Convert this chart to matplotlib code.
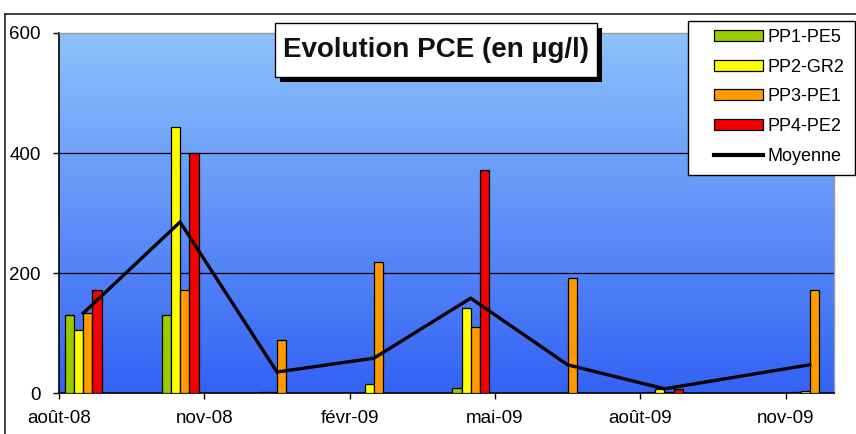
import matplotlib
matplotlib.use('Agg')
import matplotlib.pyplot as plt
import numpy as np
from matplotlib.patches import Rectangle, Patch
from matplotlib.lines import Line2D
from matplotlib.colors import LinearSegmentedColormap

# ---------------- data ----------------
axis_start = '2008-08'
axis_months = 16
sample_dates = ['2008-08', '2008-10', '2008-12', '2009-02', '2009-04', '2009-06', '2009-08', '2009-11']
pp1_pe5 = [130, 130, 1, 0, 8, 0, 1, 1]
pp2_gr2 = [105, 443, 1, 15, 141, 0, 6, 4]
pp3_pe1 = [133, 172, 88, 218, 110, 191, 2, 172]
pp4_pe2 = [172, 400, 0, 0, 372, 0, 6, 0]
moyenne = [133, 285, 35, 58, 158, 47, 7, 47]
series_names = ['PP1-PE5', 'PP2-GR2', 'PP3-PE1', 'PP4-PE2']
tick_dates = ['2008-08', '2008-11', '2009-02', '2009-05', '2009-08', '2009-11']
tick_labels = ['août-08', 'nov-08', 'févr-09', 'mai-09', 'août-09', 'nov-09']
y_ticks = [0, 200, 400, 600]
title = 'Evolution PCE (en µg/l)'

# ---------------- helpers ----------------
def month_index(d):
    y, m = map(int, d.split('-'))
    y0, m0 = map(int, axis_start.split('-'))
    return (y - y0) * 12 + (m - m0)

W, H = 856, 434
def fx(px):
    return px / W
def fy(py):
    return 1 - py / H

plt.rcParams['font.family'] = ['Liberation Sans', 'DejaVu Sans']

fig = plt.figure(figsize=(W / 100, H / 100), dpi=100)
fig.patch.set_facecolor('white')
ax = fig.add_axes([fx(59), fy(393), fx(834) - fx(59), fy(33) - fy(393)])

# gradient background
cmap = LinearSegmentedColormap.from_list('bg', ['#3462F4', '#8DC2FB'])
grad = np.linspace(0, 1, 256).reshape(-1, 1)
ax.imshow(grad, cmap=cmap, origin='lower', aspect='auto',
          extent=[0, 1, 0, 1], transform=ax.transAxes, zorder=0)

x_centers = np.array([month_index(d) for d in sample_dates]) + 0.5
colors = ['#99CC00', '#FFFF00', '#FF9900', '#F00000']
bw = 0.19
all_series = [pp1_pe5, pp2_gr2, pp3_pe1, pp4_pe2]
for i, (vals, c) in enumerate(zip(all_series, colors)):
    ax.bar(x_centers + (i - 1.5) * bw, vals, width=bw, color=c,
           edgecolor='black', linewidth=0.9, zorder=3)

ax.plot(x_centers, moyenne, color='black', lw=2.4, zorder=4,
        solid_joinstyle='miter')

ax.set_xlim(0, axis_months)
ax.set_ylim(0, 600)
ax.set_yticks(y_ticks)
ax.set_yticklabels([str(v) for v in y_ticks])
ax.set_xticks([month_index(d) for d in tick_dates])
ax.set_xticklabels(tick_labels)
for v in y_ticks[1:-1]:
    ax.axhline(v, color='black', lw=0.9, zorder=1)

ax.tick_params(axis='both', labelsize=13.5, colors='black', direction='out',
               length=4, width=1)
ax.tick_params(axis='y', pad=9)
ax.tick_params(axis='x', pad=8)
for s in ['left', 'bottom']:
    ax.spines[s].set_color('black')
    ax.spines[s].set_linewidth(1.2)
for s in ['top', 'right']:
    ax.spines[s].set_color('#9a9a9a')
    ax.spines[s].set_linewidth(1.0)

# outer chart border
fig.add_artist(Line2D([fx(5), 1.0], [fy(14), fy(14)], transform=fig.transFigure,
                      color='#222222', lw=1.2))
fig.add_artist(Line2D([fx(5), fx(5)], [fy(14), 0.0], transform=fig.transFigure,
                      color='#222222', lw=1.2))

# title box with shadow
tx0, ty0, tx1, ty1 = 275, 23, 597, 77
fig.add_artist(Rectangle((fx(tx0 + 5), fy(ty1 + 5)), fx(tx1 - tx0), fy(ty0) - fy(ty1),
                         transform=fig.transFigure, facecolor='black',
                         edgecolor='black', lw=0, zorder=5))
fig.add_artist(Rectangle((fx(tx0), fy(ty1)), fx(tx1 - tx0), fy(ty0) - fy(ty1),
                         transform=fig.transFigure, facecolor='white',
                         edgecolor='black', lw=1.0, zorder=6))
fig.text(fx((tx0 + tx1) / 2), fy((ty0 + ty1) / 2), title, ha='center', va='center',
         fontsize=20, fontweight='bold', color='#111111', zorder=7)

# legend box
fig.add_artist(Rectangle((fx(688), fy(175)), fx(855 - 688), fy(21) - fy(175),
                         transform=fig.transFigure, facecolor='white',
                         edgecolor='black', lw=1.0, zorder=5))
handles = [Patch(facecolor=c, edgecolor='black', linewidth=0.9) for c in colors]
handles.append(Line2D([], [], color='black', lw=3))
labels = series_names + ['Moyenne']
leg = fig.legend(handles, labels, loc='upper left',
                 bbox_to_anchor=(fx(714), fy(29)), frameon=False,
                 fontsize=13, handlelength=2.7, handleheight=0.55,
                 handletextpad=0.25, labelspacing=0.70, borderpad=0,
                 borderaxespad=0)
leg.set_zorder(8)

fig.savefig('out.png', dpi=100)
